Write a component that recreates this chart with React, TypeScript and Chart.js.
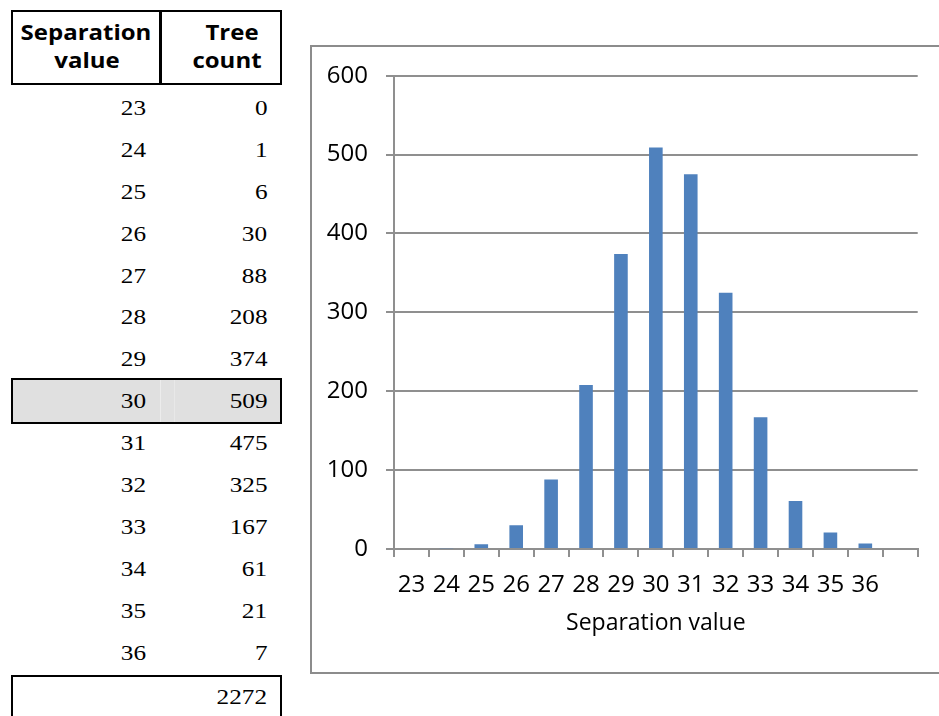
import React, { useEffect, useRef } from 'react';
import { Chart, registerables } from 'chart.js';

Chart.register(...registerables);

// ---- data ----
const separationValues = [23, 24, 25, 26, 27, 28, 29, 30, 31, 32, 33, 34, 35, 36];
const treeCounts = [0, 1, 6, 30, 88, 208, 374, 509, 475, 325, 167, 61, 21, 7];
const xTickLabels = [...separationValues.map(String), ''];
const yMin = 0;
const yMax = 600;
const yStep = 100;
const highlightedValue = 30;
const xAxisTitle = 'Separation value';
const headerCol1 = ['Separation', 'value'];
const headerCol2 = ['Tree', 'count'];
const totalCount = treeCounts.reduce((a, b) => a + b, 0);

const BAR_COLOR = '#4F81BD';
const GRID_COLOR = '#8f8f8f';
const CHART_FONT = '"Open Sans", sans-serif';

const W = 939;

function TableText({ text, right, cy }: { text: string; right: number; cy: number }) {
  return (
    <div
      style={{
        position: 'absolute',
        right: W - right,
        top: cy - 12,
        lineHeight: '24px',
        fontFamily: '"Liberation Serif", "Times New Roman", serif',
        fontSize: 21,
        color: '#000',
        transform: 'scaleX(1.2)',
        transformOrigin: 'right center',
        whiteSpace: 'nowrap',
      }}
    >
      {text}
    </div>
  );
}

function HeaderText({ text, cx, baseline }: { text: string; cx: number; baseline: number }) {
  return (
    <div
      style={{
        position: 'absolute',
        left: cx - 100,
        width: 200,
        top: baseline - 19.8,
        lineHeight: '28px',
        textAlign: 'center',
        fontFamily: CHART_FONT,
        fontWeight: 700,
        fontSize: 22,
        color: '#000',
        transform: 'scaleX(1.09)',
        transformOrigin: 'center center',
        whiteSpace: 'nowrap',
      }}
    >
      {text}
    </div>
  );
}

function BarChart() {
  const ref = useRef<HTMLCanvasElement | null>(null);
  useEffect(() => {
    if (!ref.current) return;
    const chart = new Chart(ref.current, {
      type: 'bar',
      data: {
        labels: xTickLabels,
        datasets: [
          {
            data: [...treeCounts, null],
            backgroundColor: BAR_COLOR,
            borderWidth: 0,
            barPercentage: 0.39,
            categoryPercentage: 1,
          },
        ],
      },
      options: {
        animation: false,
        responsive: false,
        devicePixelRatio: 1,
        layout: { padding: { top: 28.7, right: 21.3, bottom: 34.8, left: 0 } },
        plugins: { legend: { display: false }, tooltip: { enabled: false } },
        scales: {
          x: {
            offset: true,
            afterFit: (s: any) => {
              s.height = 88.2;
              s.paddingLeft = 0;
              s.paddingRight = 0;
            },
            grid: {
              display: true,
              drawOnChartArea: false,
              drawTicks: true,
              tickLength: 8,
              offset: true,
              color: GRID_COLOR,
              lineWidth: 2,
            },
            border: { display: true, color: GRID_COLOR, width: 2 },
            ticks: {
              color: '#000',
              font: { family: CHART_FONT, size: 24 },
              padding: 13.6,
              maxRotation: 0,
              autoSkip: false,
            },
            title: {
              display: true,
              text: xAxisTitle,
              color: '#000',
              font: { family: CHART_FONT, size: 23 },
              padding: { top: 0, bottom: 0 },
            },
          },
          y: {
            min: yMin,
            max: yMax,
            afterFit: (s: any) => {
              s.width = 82;
              s.paddingTop = 0;
              s.paddingBottom = 0;
            },
            grid: {
              color: GRID_COLOR,
              lineWidth: 2,
              drawTicks: true,
              tickLength: 8,
            },
            border: { display: true, color: GRID_COLOR, width: 2 },
            ticks: {
              stepSize: yStep,
              color: '#000',
              font: { family: CHART_FONT, size: 24 },
              padding: 18,
            },
          },
        },
      },
    });
    return () => chart.destroy();
  }, []);
  return (
    <canvas
      ref={ref}
      width={627}
      height={625}
      style={{ position: 'absolute', left: 312, top: 47, width: 627, height: 625 }}
    />
  );
}

export default function App() {
  const rowCy = (i: number) => 107.7 + i * 41.95;
  const hi = separationValues.indexOf(highlightedValue);
  return (
    <div
      style={{
        position: 'absolute',
        left: 0,
        top: 0,
        width: W,
        height: 716,
        overflow: 'hidden',
        background: '#fff',
      }}
    >
      {/* header box */}
      <div
        style={{
          position: 'absolute',
          left: 11,
          top: 10,
          width: 271,
          height: 75,
          border: '2.5px solid #000',
          boxSizing: 'border-box',
        }}
      />
      <div style={{ position: 'absolute', left: 159.3, top: 10, width: 2.4, height: 75, background: '#000' }} />
      <HeaderText text={headerCol1[0]} cx={86} baseline={37} />
      <HeaderText text={headerCol1[1]} cx={86.5} baseline={65} />
      <HeaderText text={headerCol2[0]} cx={232} baseline={37} />
      <HeaderText text={headerCol2[1]} cx={227} baseline={65} />

      {/* highlighted row */}
      {hi >= 0 && (
        <div
          style={{
            position: 'absolute',
            left: 11,
            top: rowCy(hi) - 23.3,
            width: 271,
            height: 45.5,
            border: '2.5px solid #000',
            boxSizing: 'border-box',
            background: '#e0e0e0',
          }}
        >
          <div style={{ position: 'absolute', left: 147, top: 0, width: 1, height: '100%', background: '#ececec' }} />
          <div style={{ position: 'absolute', left: 161, top: 0, width: 1, height: '100%', background: '#e8e8e8' }} />
        </div>
      )}

      {separationValues.map((v, i) => (
        <React.Fragment key={v}>
          <TableText text={String(v)} right={146} cy={rowCy(i)} />
          <TableText text={String(treeCounts[i])} right={267} cy={rowCy(i)} />
        </React.Fragment>
      ))}

      {/* total row */}
      <div
        style={{
          position: 'absolute',
          left: 11,
          top: 675,
          width: 271,
          height: 80,
          border: '2.5px solid #000',
          boxSizing: 'border-box',
        }}
      />
      <TableText text={String(totalCount)} right={267} cy={697} />

      {/* chart frame */}
      <div
        style={{
          position: 'absolute',
          left: 310,
          top: 44.7,
          width: 700,
          height: 629,
          border: '2px solid #8c8c8c',
          boxSizing: 'border-box',
        }}
      />
      <BarChart />
    </div>
  );
}
